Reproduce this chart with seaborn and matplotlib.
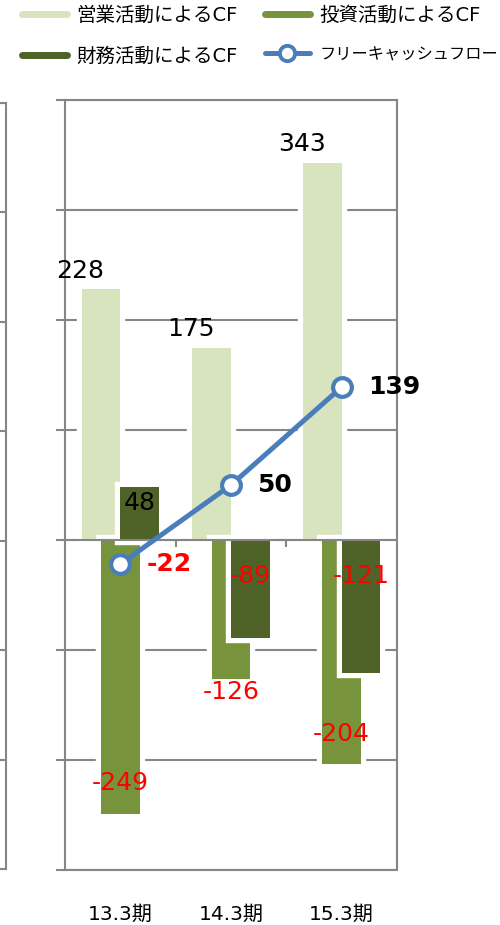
import numpy as np
import seaborn as sns
import matplotlib.pyplot as plt
import matplotlib.patheffects as pe
from matplotlib.lines import Line2D

# --- data (億円) ---
periods = ["13.3期", "14.3期", "15.3期"]
operating_cf = [228, 175, 343]
investing_cf = [-249, -126, -204]
financing_cf = [48, -89, -121]
free_cf = [-22, 50, 139]
series_names = ["営業活動によるCF", "投資活動によるCF", "財務活動によるCF", "フリーキャッシュフロー"]

# --- style ---
sns.set_style("white")
plt.rcParams["font.family"] = ["DejaVu Sans", "Noto Sans CJK JP"]
plt.rcParams["text.color"] = "black"
plt.rcParams["xtick.color"] = "black"

GRID = "#868686"
C_OP, C_INV, C_FIN, C_FCF = "#D7E4BD", "#77933C", "#4F6228", "#4A7EBB"
RED = "#FF0000"

fig = plt.figure(figsize=(5, 9.25), dpi=100)

# edge of the neighbouring chart, cut off at the left border
ax0 = fig.add_axes([-0.3, 1 - 869 / 925, 0.3 + 6 / 500, 766 / 925])
ax0.set_ylim(-300, 400)
ax0.set_yticks(range(-300, 401, 100))
ax0.set_yticklabels([])
ax0.set_xticks([])
ax0.yaxis.grid(True, color=GRID, lw=1.5)
ax0.tick_params(length=0)
for s in ax0.spines.values():
    s.set_color(GRID)
    s.set_linewidth(1.5)

ax = fig.add_axes([65 / 500, 1 - 870 / 925, (397 - 65) / 500, 770 / 925])

pos = np.arange(len(periods))
bar_w = 0.35
halo = [pe.withStroke(linewidth=7.5, foreground="white")]

# --- bars: three overlapping series per period ---
for vals, off, col in [(operating_cf, -bar_w / 2, C_OP),
                       (investing_cf, 0.0, C_INV),
                       (financing_cf, bar_w / 2, C_FIN)]:
    n_before = len(ax.patches)
    sns.barplot(x=pos + off, y=vals, native_scale=True, width=bar_w, color=col,
                saturation=1, linewidth=0, errorbar=None, ax=ax)
    for p in ax.patches[n_before:]:
        p.set_path_effects(halo)

ax.axhline(0, color=GRID, lw=1.5, zorder=3)
ax.vlines([0.5, 1.5], -6, 0, color=GRID, lw=1.5, zorder=3)

# --- free cash flow line ---
sns.lineplot(x=pos, y=free_cf, color=C_FCF, lw=3.6, marker="o", ms=13.5,
             mfc="white", mec=C_FCF, mew=3, ax=ax, zorder=5)

# --- axes ---
ax.set_xlim(-0.5, 2.5)
ax.set_ylim(-300, 400)
ax.set_yticks(range(-300, 401, 100))
ax.set_yticklabels([])
ax.yaxis.grid(True, color=GRID, lw=1.5)
ax.set_axisbelow(True)
ax.tick_params(axis="y", left=True, length=6.5, width=1.5, color=GRID, direction="out")
ax.set_xticks(pos)
ax.set_xticklabels(periods, fontsize=14.5, color="black")
ax.tick_params(axis="x", bottom=False, length=0, pad=25)
ax.set_xlabel("")
ax.set_ylabel("")
for s in ax.spines.values():
    s.set_color(GRID)
    s.set_linewidth(1.5)

# --- value labels ---
fs = 18
for i in pos:
    ax.text(i - 0.36, operating_cf[i] + 17, str(operating_cf[i]), ha="center", va="center",
            fontsize=fs, color="black", zorder=6)

    v = investing_cf[i]
    y = v - 12 if abs(v) < 150 else v + 28   # short bar -> label below the end
    ax.text(i, y, str(v), ha="center", va="center", fontsize=fs, color=RED, zorder=6)

    v = financing_cf[i]
    y = v - 14 if v > 0 else -33
    ax.text(i + bar_w / 2, y, str(v), ha="center", va="center", fontsize=fs,
            color="black" if v > 0 else RED, zorder=6)

    v = free_cf[i]
    ax.text(i + 0.24, v, str(v), ha="left", va="center", fontsize=fs, fontweight="bold",
            color="black" if v > 0 else RED, zorder=6)

# --- legend ---
handles = [
    Line2D([], [], color=C_OP, lw=5),
    Line2D([], [], color=C_FIN, lw=5),
    Line2D([], [], color=C_INV, lw=5),
    Line2D([], [], color=C_FCF, lw=3.6, marker="o", ms=11, mfc="white", mec=C_FCF, mew=2.8),
]
labels = [series_names[0], series_names[2], series_names[1], series_names[3]]
leg = fig.legend(handles, labels, loc="upper left", bbox_to_anchor=(22 / 500, 1 - 6 / 925),
                 ncol=2, frameon=False, fontsize=14, handlelength=2.3, handletextpad=0.5,
                 columnspacing=1.4, labelspacing=1.1, borderpad=0, borderaxespad=0)
for t in leg.get_texts():
    t.set_color("black")
leg.get_texts()[3].set_fontsize(11.7)

plt.savefig("out.png", dpi=100)
